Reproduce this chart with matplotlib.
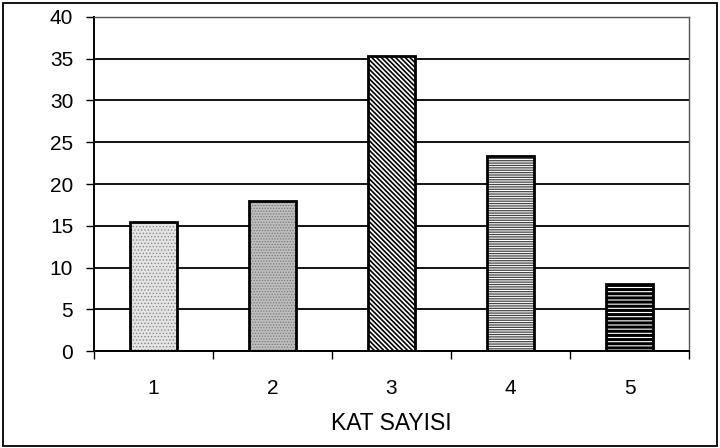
import matplotlib
matplotlib.use('Agg')
import matplotlib.pyplot as plt
from matplotlib.patches import Rectangle

# data
categories = ['1', '2', '3', '4', '5']
values = [15.4, 18.0, 35.3, 23.3, 8.0]
y_ticks = [0, 5, 10, 15, 20, 25, 30, 35, 40]
x_label = 'KAT SAYISI'

plt.rcParams['font.family'] = ['Liberation Sans', 'DejaVu Sans']
plt.rcParams['hatch.linewidth'] = 0.8

fig = plt.figure(figsize=(7.2, 4.48), dpi=100)
ax = fig.add_axes([94 / 720, 1 - 351 / 448, 595 / 720, 334 / 448])

x = list(range(len(categories)))
# fill styles per bar: (face, hatch colour, hatch, hatch width)
styles = [
    ('#e4e4e4', '#8a8a8a', '.....', 0.6),
    ('#bdbdbd', '#7a7a7a', '......', 0.6),
    ('white', 'black', '\\' * 7, 1.2),
    ('white', '#444444', '-' * 7, 0.9),
    ('white', 'black', '----', 2.2),
]
for xi, v, (face, hcol, hatch, hlw) in zip(x, values, styles):
    b = ax.bar(xi, v, width=0.4, color=face, edgecolor=hcol, hatch=hatch, linewidth=0, zorder=2)
    for p in b.patches:
        try:
            p.set_hatch_linewidth(hlw)
        except AttributeError:
            pass
    ax.bar(xi, v, width=0.4, facecolor='none', edgecolor='black', linewidth=2, zorder=3)

ax.set_xlim(-0.5, len(categories) - 0.5)
ax.set_ylim(0, 40)
ax.set_yticks(y_ticks)
ax.set_yticklabels([str(t) for t in y_ticks], fontsize=15)
ax.yaxis.grid(True, color='black', linewidth=1.3, zorder=1)
ax.set_axisbelow(True)

# category labels centred, tick marks on the boundaries
ax.set_xticks(x)
ax.set_xticklabels(categories, fontsize=15)
ax.tick_params(axis='x', length=0, pad=20)
ax.set_xticks([i - 0.5 for i in range(len(categories) + 1)], minor=True)
ax.tick_params(axis='x', which='minor', length=6, width=1, direction='out')
ax.tick_params(axis='y', length=6, width=1, direction='out', pad=9)

for s in ['left', 'bottom']:
    ax.spines[s].set_linewidth(1.4)
for s in ['top', 'right']:
    ax.spines[s].set_color('#555555')
    ax.spines[s].set_linewidth(1)

ax.set_xlabel(x_label, fontsize=16.5, labelpad=10)

fig.patches.append(Rectangle((3 / 720, 2 / 448), 714 / 720, 443 / 448, transform=fig.transFigure,
                             fill=False, edgecolor='black', linewidth=1.3))

fig.savefig('out.png', dpi=100)
